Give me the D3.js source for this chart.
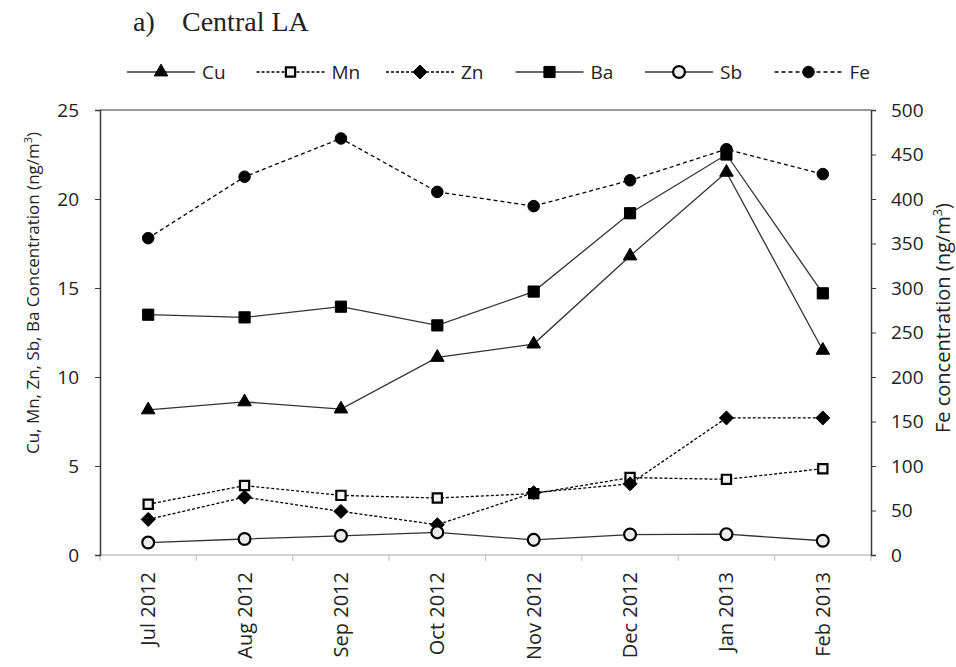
<!DOCTYPE html>
<html>
<head>
<meta charset="utf-8">
<script src="https://cdn.jsdelivr.net/npm/d3@7"></script>
<style>
  html, body { margin: 0; padding: 0; background: #fff; }
  svg { display: block; }
  text { font-family: "Open Sans", "Noto Sans", sans-serif; fill: #222; }
</style>
</head>
<body>
<svg id="chart" width="956" height="667"></svg>
<script>
// Monthly trace-metal concentrations, Central LA
const months = ["Jul 2012", "Aug 2012", "Sep 2012", "Oct 2012", "Nov 2012", "Dec 2012", "Jan 2013", "Feb 2013"];
const cu = [8.15, 8.6, 8.2, 11.1, 11.85, 16.8, 21.5, 11.5];
const mn = [2.85, 3.9, 3.35, 3.2, 3.45, 4.35, 4.25, 4.85];
const zn = [2.0, 3.25, 2.45, 1.7, 3.5, 4.0, 7.7, 7.7];
const ba = [13.5, 13.35, 13.95, 12.9, 14.8, 19.2, 22.5, 14.7];
const sb = [0.7, 0.9, 1.08, 1.27, 0.85, 1.15, 1.17, 0.8];
const fe = [356, 425, 468, 408, 392, 421, 456, 428];
const leftTicks = [0, 5, 10, 15, 20, 25];
const rightTicks = [0, 50, 100, 150, 200, 250, 300, 350, 400, 450, 500];

const svg = d3.select("#chart");
const plot = { left: 100, right: 871, top: 110, bottom: 555 };

const x = d3.scaleBand().domain(months).range([plot.left, plot.right]);
const cx = m => x(m) + x.bandwidth() / 2;
const yL = d3.scaleLinear().domain([0, 25]).range([plot.bottom, plot.top]);
const yR = d3.scaleLinear().domain([0, 500]).range([plot.bottom, plot.top]);

// square-on-point diamond marker
const diamond = {
  draw(ctx, size) {
    const r = Math.sqrt(size / 2);
    ctx.moveTo(0, -r); ctx.lineTo(r, 0); ctx.lineTo(0, r); ctx.lineTo(-r, 0); ctx.closePath();
  }
};

const series = [
  { name: "Cu", values: cu, axis: yL, dash: null, symbol: d3.symbolTriangle, size: 80, fill: "#000", stroke: "#000", sw: 1 },
  { name: "Mn", values: mn, axis: yL, dash: "3,2", symbol: d3.symbolSquare, size: 85, fill: "#f2f2f2", stroke: "#000", sw: 2.2 },
  { name: "Zn", values: zn, axis: yL, dash: "3,2", symbol: diamond, size: 98, fill: "#000", stroke: "#000", sw: 1 },
  { name: "Ba", values: ba, axis: yL, dash: null, symbol: d3.symbolSquare, size: 125, fill: "#000", stroke: "#000", sw: 1 },
  { name: "Sb", values: sb, axis: yL, dash: null, symbol: d3.symbolCircle, size: 110, fill: "#ececec", stroke: "#000", sw: 2.2 },
  { name: "Fe", values: fe, axis: yR, dash: "4,3", symbol: d3.symbolCircle, size: 105, fill: "#000", stroke: "#000", sw: 1 }
];

// plot frame: grey top border
svg.append("line")
  .attr("x1", plot.left).attr("x2", plot.right)
  .attr("y1", plot.top).attr("y2", plot.top)
  .attr("stroke", "#9a9a9a").attr("stroke-width", 2);

// bottom category axis
const xAxisG = svg.append("g");
xAxisG.append("line")
  .attr("x1", plot.left).attr("x2", plot.right)
  .attr("y1", plot.bottom).attr("y2", plot.bottom)
  .attr("stroke", "#c4c4c4").attr("stroke-width", 1.5);
const bounds = months.map(m => x(m)).concat([plot.right]);
xAxisG.selectAll("line.tk").data(bounds).join("line")
  .attr("class", "tk")
  .attr("x1", d => d).attr("x2", d => d)
  .attr("y1", plot.bottom).attr("y2", plot.bottom + 6)
  .attr("stroke", "#c4c4c4").attr("stroke-width", 1.2);
xAxisG.selectAll("text").data(months).join("text")
  .attr("transform", d => `translate(${cx(d) + 7},${plot.bottom + 17}) rotate(-90)`)
  .attr("text-anchor", "end")
  .style("font-size", "20px")
  .text(d => d);

// left value axis
const leftAxis = svg.append("g")
  .attr("transform", `translate(${plot.left},0)`)
  .call(d3.axisLeft(yL).tickValues(leftTicks).tickSize(5).tickPadding(16));
leftAxis.select(".domain").attr("stroke", "#3a3a3a").attr("stroke-width", 1.5);
leftAxis.selectAll(".tick line").attr("stroke", "#3a3a3a");
leftAxis.selectAll(".tick text").style("font-size", "19px").style("font-family", "'Open Sans', sans-serif").attr("fill", "#222");

// right value axis (Fe)
const rightAxis = svg.append("g")
  .attr("transform", `translate(${plot.right},0)`)
  .call(d3.axisRight(yR).tickValues(rightTicks).tickSize(5).tickPadding(15));
rightAxis.select(".domain").attr("stroke", "#3a3a3a").attr("stroke-width", 1.5);
rightAxis.selectAll(".tick line").attr("stroke", "#3a3a3a");
rightAxis.selectAll(".tick text").style("font-size", "19px").style("font-family", "'Open Sans', sans-serif").attr("fill", "#222");

// axis titles
const lt = svg.append("text")
  .attr("transform", "translate(39,293) rotate(-90)")
  .attr("text-anchor", "middle")
  .style("font-size", "17px");
lt.append("tspan").text("Cu, Mn, Zn, Sb, Ba Concentration (ng/m");
lt.append("tspan").attr("dy", -7).style("font-size", "11px").text("3");
lt.append("tspan").attr("dy", 7).text(")");

const rt = svg.append("text")
  .attr("transform", "translate(950,318) rotate(-90)")
  .attr("text-anchor", "middle")
  .style("font-size", "20px");
rt.append("tspan").text("Fe concentration (ng/m");
rt.append("tspan").attr("dy", -8).style("font-size", "13px").text("3");
rt.append("tspan").attr("dy", 8).text(")");

// series lines and markers
const sym = d3.symbol();
series.forEach(s => {
  const line = d3.line().x((d, i) => cx(months[i])).y(d => s.axis(d));
  svg.append("path")
    .datum(s.values)
    .attr("d", line)
    .attr("fill", "none")
    .attr("stroke", s.dash ? "#000" : "#333")
    .attr("stroke-width", 1.3)
    .attr("stroke-dasharray", s.dash);
});
series.forEach(s => {
  svg.append("g").selectAll("path").data(s.values).join("path")
    .attr("transform", (d, i) => `translate(${cx(months[i])},${s.axis(d)})`)
    .attr("d", sym.type(s.symbol).size(s.size)())
    .attr("fill", s.fill)
    .attr("stroke", s.stroke)
    .attr("stroke-width", s.sw);
});

// legend
const legend = svg.append("g");
series.forEach((s, i) => {
  const x0 = 127 + i * 129.5, y0 = 72;
  const g = legend.append("g").attr("transform", `translate(${x0},${y0})`);
  g.append("line").attr("x1", 0).attr("x2", 68).attr("y1", 0).attr("y2", 0)
    .attr("stroke", s.dash ? "#000" : "#333").attr("stroke-width", 1.3)
    .attr("stroke-dasharray", s.dash);
  g.append("path")
    .attr("transform", "translate(34,0)")
    .attr("d", sym.type(s.symbol).size(s.size)())
    .attr("fill", s.fill).attr("stroke", s.stroke).attr("stroke-width", s.sw);
  g.append("text").attr("x", 75).attr("y", 7).style("font-size", "19px").text(s.name);
});

// title
const title = svg.append("g")
  .style("font-family", "'Liberation Serif', 'Times New Roman', serif")
  .style("font-size", "28px");
title.append("text").attr("x", 133).attr("y", 31).attr("fill", "#000")
  .style("font-family", "'Liberation Serif', 'Times New Roman', serif").text("a)");
title.append("text").attr("x", 182).attr("y", 31).attr("fill", "#000")
  .style("font-family", "'Liberation Serif', 'Times New Roman', serif").text("Central LA");
</script>
</body>
</html>
